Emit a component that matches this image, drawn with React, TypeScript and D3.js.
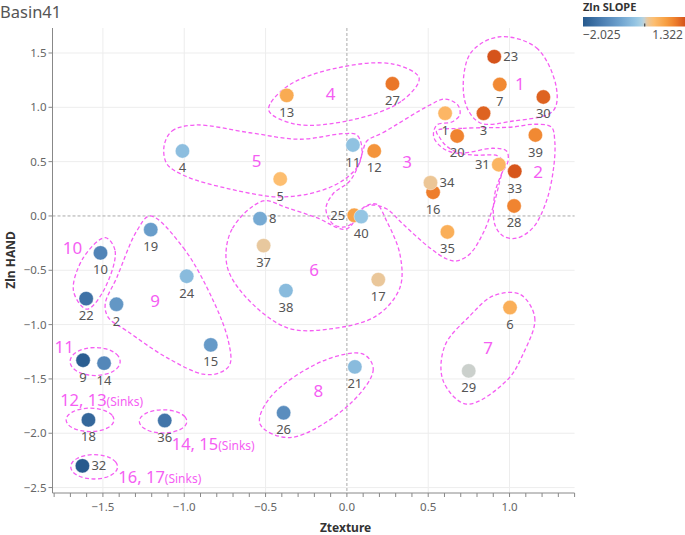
import * as d3 from 'd3';

// point ids and values (Ztexture, Zln HAND, Zln SLOPE)
const ids = [1, 2, 3, 4, 5, 6, 7, 8, 9, 10, 11, 12, 13, 14, 15, 16, 17, 18, 19, 20,
  21, 22, 23, 24, 25, 26, 27, 28, 29, 30, 31, 32, 33, 34, 35, 36, 37, 38, 39, 40];
const ztexture = [0.604, -1.417, 0.84, -1.011, -0.41, 1.003, 0.94, -0.534, -1.622, -1.515,
  0.037, 0.168, -0.37, -1.493, -0.837, 0.53, 0.193, -1.589, -1.206, 0.678,
  0.049, -1.603, 0.906, -0.985, 0.045, -0.389, 0.28, 1.028, 0.749, 1.208,
  0.934, -1.626, 1.032, 0.514, 0.618, -1.12, -0.512, -0.375, 1.159, 0.088];
const zhand = [0.945, -0.813, 0.945, 0.598, 0.34, -0.843, 1.21, -0.025, -1.328, -0.34,
  0.653, 0.598, 1.11, -1.355, -1.187, 0.218, -0.586, -1.877, -0.126, 0.736,
  -1.389, -0.761, 1.466, -0.555, 0.006, -1.812, 1.217, 0.092, -1.426, 1.095,
  0.472, -2.3, 0.411, 0.306, -0.147, -1.883, -0.273, -0.687, 0.745, -0.006];
const zslope = [0.4, -1.0, 1.2, -0.4, 0.3, 0.5, 0.9, -0.7, -1.95, -1.3,
  -0.35, 0.8, 0.55, -1.25, -0.95, 1.0, 0.1, -1.8, -0.9, 0.95,
  -0.45, -1.6, 1.322, -0.45, 0.65, -1.15, 1.05, 0.95, 0.0, 1.2,
  0.42, -2.025, 1.3, 0.12, 0.5, -1.55, 0.08, -0.45, 0.9, -0.3];

const xTicks = [-1.5, -1.0, -0.5, 0.0, 0.5, 1.0];
const yTicks = [1.5, 1.0, 0.5, 0.0, -0.5, -1.0, -1.5, -2.0, -2.5];
const slopeMin = -2.025;
const slopeMax = 1.322;

// orange-blue diverging ramp
const slopeStops = [-2.025, -1.4, -0.8, -0.3, -0.05, 0, 0.08, 0.3, 0.7, 1.0, 1.322];
const slopeColors = ['#275a8d', '#4b7eb2', '#6fa3cf', '#94c5e3', '#b3d4e3', '#cbd0cc',
  '#e8c89e', '#fdbe70', '#f79f42', '#ee7e2c', '#d5531b'];

const labelRight = [23, 8, 34, 32];
const labelLeft = [25, 31];

// hand drawn cluster outlines, in data units
const cluster1 = [[0.929, 1.647], [1.165, 1.548], [1.288, 1.18], [1.267, 0.966], [1.022, 0.874],
  [0.817, 0.858], [0.725, 1.058], [0.756, 1.488]];
const cluster2 = [[0.551, 0.782], [0.714, 0.807], [1.021, 0.819], [1.144, 0.844], [1.257, 0.819],
  [1.278, 0.69], [1.271, 0.444], [1.227, 0.138], [1.144, -0.108], [1.042, -0.205], [0.96, -0.184],
  [0.909, -0.076], [0.909, 0.2], [0.95, 0.384], [0.991, 0.506], [0.981, 0.598], [0.899, 0.623],
  [0.694, 0.582], [0.612, 0.644], [0.571, 0.72]];
const cluster3 = [[0.123, 0.69], [0.221, 0.766], [0.51, 1.021], [0.602, 1.076], [0.682, 1.021],
  [0.694, 0.929], [0.645, 0.865], [0.553, 0.837], [0.534, 0.727], [0.608, 0.607], [0.774, 0.561],
  [0.928, 0.552], [0.964, 0.488], [0.94, 0.322], [0.897, 0.074], [0.835, -0.166], [0.756, -0.35],
  [0.676, -0.414], [0.614, -0.396], [0.51, -0.294], [0.344, -0.074], [0.246, 0.064], [0.16, 0.101],
  [0.104, 0.074], [0.049, -0.046], [-0.012, -0.101], [-0.086, -0.074], [-0.129, 0.064],
  [-0.086, 0.202], [0.018, 0.322], [0.074, 0.478], [0.098, 0.598]];
const cluster4 = [[0.444, 1.27], [0.333, 1.054], [0.016, 0.879], [-0.321, 0.846], [-0.481, 0.975],
  [-0.37, 1.19], [-0.053, 1.365], [0.284, 1.398]];
const cluster5 = [[-1.124, 0.644], [-1.075, 0.782], [-0.934, 0.837], [-0.596, 0.766], [-0.289, 0.706],
  [-0.023, 0.757], [0.061, 0.745], [0.092, 0.628], [0.074, 0.476], [-0.012, 0.34], [-0.166, 0.23],
  [-0.412, 0.175], [-0.719, 0.248], [-0.995, 0.368], [-1.106, 0.478]];
const cluster6 = [[-0.514, 0.138], [-0.706, -0.12], [-0.739, -0.444], [-0.637, -0.72], [-0.37, -1.028],
  [-0.104, -1.04], [0.181, -0.92], [0.326, -0.66], [0.326, -0.352], [0.244, -0.046], [0.182, 0.108],
  [0.1, 0.076], [-0.002, -0.12], [-0.186, -0.016], [-0.37, 0.076]];
const cluster7 = [[1.063, -0.72], [1.155, -0.936], [1.083, -1.272], [0.981, -1.518], [0.735, -1.732],
  [0.592, -1.518], [0.602, -1.196], [0.756, -0.92], [0.899, -0.736]];
const cluster8 = [[0.1, -1.272], [0.162, -1.41], [0.018, -1.732], [-0.35, -2.04], [-0.534, -1.916],
  [-0.473, -1.672], [-0.146, -1.334]];
const cluster9 = [[-1.21, 0.0], [-1.006, -0.292], [-0.821, -0.782], [-0.729, -1.15], [-0.719, -1.364],
  [-0.78, -1.442], [-0.883, -1.456], [-1.107, -1.304], [-1.353, -1.058], [-1.466, -0.936],
  [-1.486, -0.812], [-1.415, -0.568], [-1.292, -0.138]];
const cluster10 = [[-1.486, -0.2], [-1.425, -0.322], [-1.497, -0.69], [-1.599, -0.858], [-1.681, -0.69],
  [-1.62, -0.384]];
// axis aligned ellipses: cx, cy, rx, ry
const sinkEllipses = [[-1.548, -1.34, 0.154, 0.129], [-1.579, -1.877, 0.147, 0.108],
  [-1.13, -1.891, 0.146, 0.107], [-1.554, -2.309, 0.144, 0.112]];

const clusterNames = ['1', '2', '3', '4', '5', '6', '7', '8', '9', '10', '11'];
const clusterX = [1.063, 1.175, 0.37, -0.1, -0.555, -0.201, 0.868, -0.176, -1.179, -1.687, -1.738];
const clusterY = [1.212, 0.407, 0.497, 1.12, 0.506, -0.5, -1.212, -1.61, -0.782, -0.292, -1.205];
const sinkNames = ['12, 13', '14, 15', '16, 17'];
const sinkX = [-1.763, -1.077, -1.405];
const sinkY = [-1.69, -2.1, -2.401];

const W = 685;
const H = 535;
const font = '"Noto Sans", sans-serif';
const magenta = '#f55ef3';

export default function App() {
  const x = d3.scaleLinear().domain([-1.81, 1.4]).range([52.5, 574.6]);
  const y = d3.scaleLinear().domain([-2.55, 1.73]).range([493, 28]);
  const color = d3.scaleLinear<string>().domain(slopeStops).range(slopeColors).clamp(true);

  const outlinePath = d3
    .line<number[]>()
    .x((d) => x(d[0]))
    .y((d) => y(d[1]))
    .curve(d3.curveCatmullRomClosed.alpha(0.5));

  const ellipsePts = (e: number[]) =>
    d3.range(16).map((i) => {
      const t = (i / 16) * Math.PI * 2;
      return [e[0] + e[2] * Math.cos(t), e[1] + e[3] * Math.sin(t)];
    });

  const outlines = [cluster1, cluster2, cluster3, cluster4, cluster5, cluster6, cluster7, cluster8,
    cluster9, cluster10, ...sinkEllipses.map(ellipsePts)];

  const minorTicks = d3.range(-18, 15).map((i) => i / 10);
  const [x0, x1] = x.range();
  const [yb, yt] = y.range();

  const legendX = 583;
  const legendW = 102;
  const legend = d3.scaleLinear().domain([slopeMin, slopeMax]).range([legendX, legendX + legendW]);
  const gradStops = d3.range(41).map((i) => slopeMin + (i / 40) * (slopeMax - slopeMin));

  const points = ids.map((id, i) => ({ id, tx: ztexture[i], hd: zhand[i], sl: zslope[i] }));

  return (
    <svg width={W} height={H} style={{ position: 'absolute', left: 0, top: 0, background: '#fff' }}
      fontFamily={font}>
      <defs>
        <linearGradient id="slopeGrad" x1="0" x2="1" y1="0" y2="0">
          {gradStops.map((v, i) => (
            <stop key={i} offset={(i / 40) * 100 + '%'} stopColor={color(v)} />
          ))}
        </linearGradient>
      </defs>

      <text x={0} y={18} fontSize={16.5} fill="#555">Basin41</text>

      {/* grid */}
      {xTicks.filter((t) => t !== 0).map((t) => (
        <line key={'gx' + t} x1={x(t)} x2={x(t)} y1={yt} y2={yb} stroke="#ededed" />
      ))}
      {yTicks.filter((t) => t !== 0).map((t) => (
        <line key={'gy' + t} x1={x0} x2={x1} y1={y(t)} y2={y(t)} stroke="#ededed" />
      ))}
      <line x1={x(0)} x2={x(0)} y1={yt} y2={yb} stroke="#aaa" strokeDasharray="3,2" />
      <line x1={x0} x2={x1} y1={y(0)} y2={y(0)} stroke="#aaa" strokeDasharray="3,2" />

      {/* axes */}
      <line x1={x0} x2={x0} y1={yt} y2={yb} stroke="#888" />
      <line x1={x0} x2={x1} y1={yb} y2={yb} stroke="#888" />
      {minorTicks.map((t) => (
        <line key={'mt' + t} x1={x(t)} x2={x(t)} y1={yb} y2={yb + 4} stroke="#888" />
      ))}
      {xTicks.map((t) => (
        <text key={'xt' + t} x={x(t)} y={yb + 18} fontSize={11.5} fill="#666" textAnchor="middle">
          {d3.format('.1f')(t)}
        </text>
      ))}
      {yTicks.map((t) => (
        <g key={'yt' + t}>
          <line x1={x0 - 4} x2={x0} y1={y(t)} y2={y(t)} stroke="#888" />
          <text x={x0 - 6} y={y(t) + 4} fontSize={11.5} fill="#666" textAnchor="end">
            {d3.format('.1f')(t)}
          </text>
        </g>
      ))}
      <text x={(x0 + x1) / 2 + 32} y={532} fontSize={12} fontWeight="bold" fill="#333" textAnchor="middle">
        Ztexture
      </text>
      <text transform={`translate(15,260) rotate(-90)`} fontSize={12} fontWeight="bold" fill="#333"
        textAnchor="middle">
        Zln HAND
      </text>

      {/* cluster outlines */}
      {outlines.map((pts, i) => (
        <path key={'ol' + i} d={outlinePath(pts) || ''} fill="none" stroke={magenta}
          strokeWidth={1.3} strokeDasharray="4,2.5" />
      ))}

      {/* points */}
      {points.map((p) => (
        <circle key={'p' + p.id} cx={x(p.tx)} cy={y(p.hd)} r={7.2} fill={color(p.sl)}
          stroke="#fff" strokeOpacity={0.6} strokeWidth={0.7} />
      ))}
      {points.map((p) => {
        const cx = x(p.tx);
        const cy = y(p.hd);
        if (labelRight.includes(p.id)) {
          return (
            <text key={'l' + p.id} x={cx + 9} y={cy + 4.5} fontSize={13} fill="#555">{p.id}</text>
          );
        }
        if (labelLeft.includes(p.id)) {
          return (
            <text key={'l' + p.id} x={cx - 9} y={cy + 4.5} fontSize={13} fill="#555" textAnchor="end">
              {p.id}
            </text>
          );
        }
        return (
          <text key={'l' + p.id} x={cx} y={cy + 21.5} fontSize={13} fill="#555" textAnchor="middle">
            {p.id}
          </text>
        );
      })}

      {/* cluster numbers */}
      {clusterNames.map((n, i) => (
        <text key={'cn' + n} x={x(clusterX[i])} y={y(clusterY[i]) + 6} fontSize={17} fill={magenta}
          textAnchor="middle">
          {n}
        </text>
      ))}
      {sinkNames.map((n, i) => (
        <text key={'sn' + n} x={x(sinkX[i])} y={y(sinkY[i]) + 6} fontSize={16.5} fill={magenta}>
          {n}
          <tspan fontSize={12}>(Sinks)</tspan>
        </text>
      ))}

      {/* legend */}
      <text x={legendX} y={11} fontSize={11} fontWeight="bold" fill="#333">Zln SLOPE</text>
      <rect x={legendX} y={17} width={legendW} height={9.5} fill="url(#slopeGrad)" />
      <line x1={legend(0)} x2={legend(0)} y1={23.5} y2={26.5} stroke="#444" strokeWidth={1.2} />
      <text x={legendX} y={39} fontSize={12} fill="#555">{d3.format('.3f')(slopeMin)}</text>
      <text x={683} y={39} fontSize={12} fill="#555" textAnchor="end">{d3.format('.3f')(slopeMax)}</text>
    </svg>
  );
}
